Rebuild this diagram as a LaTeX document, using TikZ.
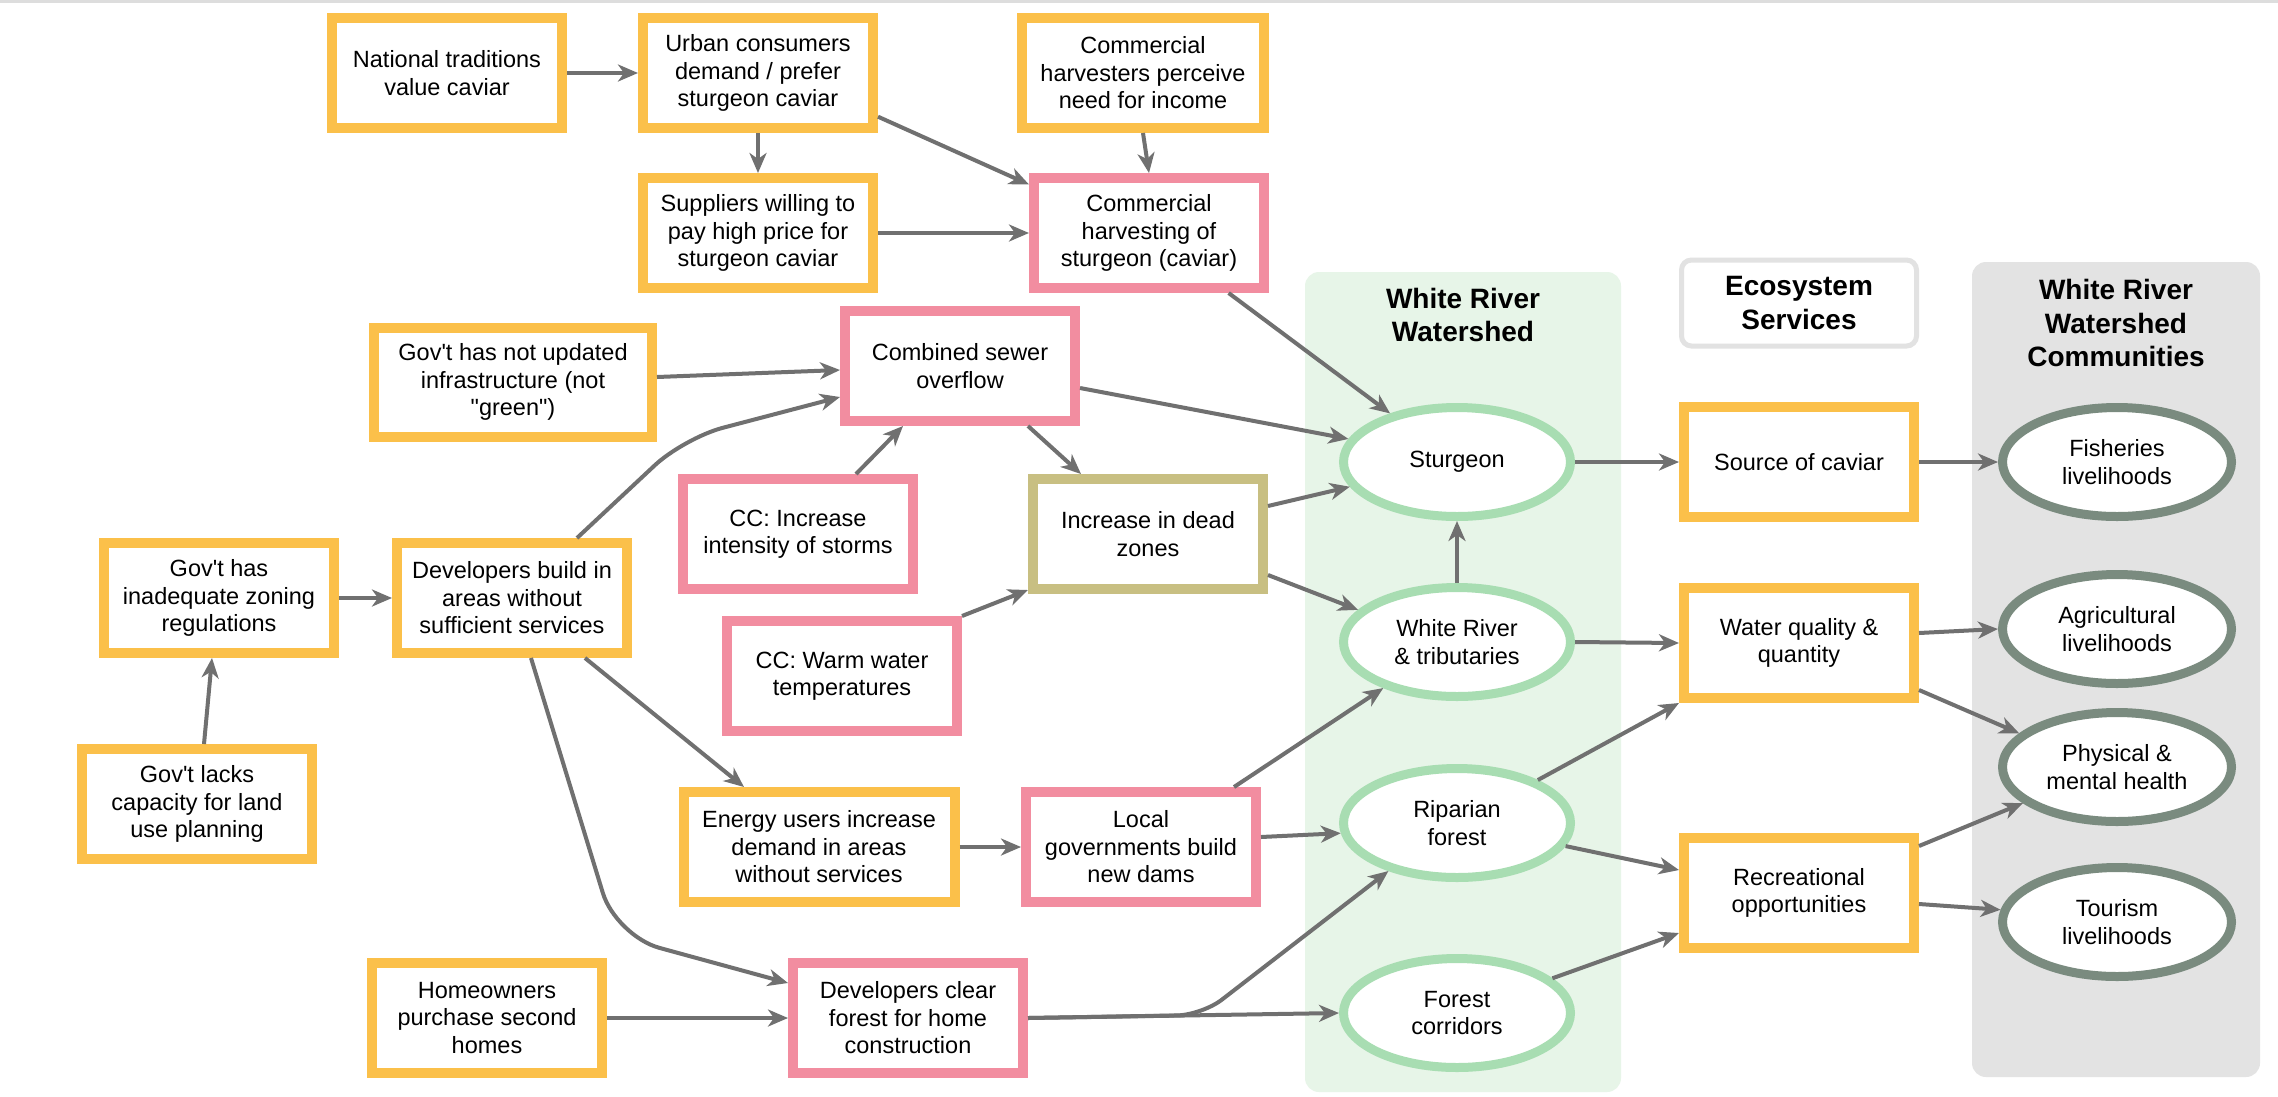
\documentclass[tikz,border=0pt]{standalone}
\usepackage{fontspec}
\setmainfont{Liberation Sans}
\usetikzlibrary{arrows.meta,shapes.geometric}
\definecolor{cOrange}{HTML}{FBC04A}
\definecolor{cPink}{HTML}{F28DA0}
\definecolor{cKhaki}{HTML}{C8BF82}
\definecolor{cGreen}{HTML}{A8DDB2}
\definecolor{cGreenBg}{HTML}{E7F5E8}
\definecolor{cGrayBg}{HTML}{E3E3E3}
\definecolor{cComm}{HTML}{7A8B7F}
\definecolor{cArrow}{HTML}{707070}
\definecolor{cTitleBox}{HTML}{E2E2E2}
\definecolor{cTopLine}{HTML}{DDDDDD}
\newcommand{\sq}{\XeTeXglyph\XeTeXcharglyph"0027\relax}
\newcommand{\dq}{\XeTeXglyph\XeTeXcharglyph"0022\relax}
\begin{document}
\begin{tikzpicture}[x=1pt,y=1pt,
  txt/.style={font=\fontsize{23.5}{27.5}\selectfont, align=center, text=black},
  box/.style={txt, rectangle, line width=10pt, fill=white, minimum width=230pt, minimum height=110pt, inner sep=0pt},
  obox/.style={box, draw=cOrange},
  pbox/.style={box, draw=cPink},
  kbox/.style={box, draw=cKhaki},
  wnode/.style={txt, ellipse, draw=cGreen, line width=9pt, fill=white, minimum width=227pt, minimum height=109pt, inner sep=0pt},
  cnode/.style={txt, ellipse, draw=cComm, line width=9pt, fill=white, minimum width=229pt, minimum height=109pt, inner sep=0pt},
  ttl/.style={font=\fontsize{28}{33.5}\selectfont\bfseries, align=center, text=black},
  arr/.style={draw=cArrow, line width=4pt, -{Stealth[length=20pt,width=17pt,inset=6pt]}},
]
\useasboundingbox (0,0) rectangle (2278,-1096);
\fill[white] (0,0) rectangle (2278,-1096);
\fill[cTopLine] (0,0) rectangle (2278,-3);

% panels
\fill[cGreenBg, rounded corners=14pt] (1305,-272) rectangle (1621,-1092);
\fill[cGrayBg, rounded corners=14pt] (1972,-262) rectangle (2260,-1077);
\node[ttl] (t1) at (1463,-315) {White River\\Watershed};
\node[ttl, draw=cTitleBox, line width=5pt, rounded corners=10pt, fill=white, minimum width=235pt, minimum height=86pt, inner sep=0pt] (eco) at (1799,-303) {Ecosystem\\Services};
\node[ttl] (t3) at (2116,-323) {White River\\Watershed\\Communities};

% boxes
\node[obox] (nat) at (447,-73) {National traditions\\value caviar};
\node[obox] (urban) at (758,-73) {Urban consumers\\demand / prefer\\sturgeon caviar};
\node[obox, minimum width=242pt] (harvp) at (1143,-73) {Commercial\\harvesters perceive\\need for income};
\node[obox] (supp) at (758,-233) {Suppliers willing to\\pay high price for\\sturgeon caviar};
\node[pbox] (harv) at (1149,-233) {Commercial\\harvesting of\\sturgeon (caviar)};
\node[obox, minimum width=278pt, minimum height=109pt] (govup) at (513,-382) {Gov\sq t has not updated\\infrastructure (not\\\dq green\dq)};
\node[pbox] (sewer) at (960,-366) {Combined sewer\\overflow};
\node[pbox] (storms) at (798,-534) {CC: Increase\\intensity of storms};
\node[kbox] (dead) at (1148,-534) {Increase in dead\\zones};
\node[pbox] (warm) at (842,-676) {CC: Warm water\\temperatures};
\node[obox] (govzone) at (219,-598) {Gov\sq t has\\inadequate zoning\\regulations};
\node[obox] (devbuild) at (512,-598) {Developers build in\\areas without\\sufficient services};
\node[obox] (govcap) at (197,-804) {Gov\sq t lacks\\capacity for land\\use planning};
\node[obox, minimum width=271pt] (energy) at (819,-847) {Energy users increase\\demand in areas\\without services};
\node[pbox] (local) at (1141,-847) {Local\\governments build\\new dams};
\node[obox] (home) at (487,-1018) {Homeowners\\purchase second\\homes};
\node[pbox] (clear) at (908,-1018) {Developers clear\\forest for home\\construction};

% watershed
\node[wnode] (sturg) at (1457,-462) {Sturgeon};
\node[wnode] (wr) at (1457,-642) {White River\\\& tributaries};
\node[wnode] (rip) at (1457,-823) {Riparian\\forest};
\node[wnode] (fc) at (1457,-1013) {Forest\\corridors};

% services
\node[obox] (src) at (1799,-462) {Source of caviar};
\node[obox] (wq) at (1799,-643) {Water quality \&\\quantity};
\node[obox] (rec) at (1799,-893) {Recreational\\opportunities};

% communities
\node[cnode] (fish) at (2117,-462) {Fisheries\\livelihoods};
\node[cnode] (agri) at (2117,-629) {Agricultural\\livelihoods};
\node[cnode] (phys) at (2117,-767) {Physical \&\\mental health};
\node[cnode] (tour) at (2117,-922) {Tourism\\livelihoods};

% connectors
\draw[arr] (nat.east) -- (urban.west);
\draw[arr] (urban.south) -- (supp.north);
\draw[arr] (harvp.south) -- (harv.north);
\draw[arr] (urban.-20) -- (harv.158);
\draw[arr] (supp.east) -- (harv.west);
\draw[arr] (harv.-37) -- (sturg.144);
\draw[arr] ([yshift=5pt]govup.east) -- ([yshift=-4pt]sewer.west);
\draw[arr, rounded corners=40pt] ([xshift=65pt]devbuild.north) -- (684,-438) -- ([yshift=-31pt]sewer.west);
\draw[arr] ([xshift=58pt]storms.north) -- ([xshift=-57pt]sewer.south);
\draw[arr] ([yshift=-22pt]sewer.east) -- (sturg.168);
\draw[arr] ([xshift=68pt]sewer.south) -- ([xshift=-67pt]dead.north);
\draw[arr] (warm.north east) -- ([yshift=4pt]dead.south west);
\draw[arr] ([yshift=28pt]dead.east) -- (sturg.193);
\draw[arr] ([yshift=-41pt]dead.east) -- (wr.162);
\draw[arr] (wr.north) -- (sturg.south);
\draw[arr] ([xshift=7pt]govcap.north) -- ([xshift=-7pt]govzone.south);
\draw[arr] (govzone.east) -- (devbuild.west);
\draw[arr] ([xshift=73pt]devbuild.south) -- ([xshift=-75pt]energy.north);
\draw[arr, rounded corners=45pt] ([xshift=19pt]devbuild.south) -- (616,-936) -- ([yshift=35pt]clear.west);
\draw[arr] (energy.east) -- (local.west);
\draw[arr] ([xshift=93pt]local.north) -- (wr.212);
\draw[arr] ([yshift=10pt]local.east) -- (rip.185);
\draw[arr] (home.east) -- (clear.west);
\draw[arr] (clear.east) -- (fc.west);
\draw[arr, rounded corners=25pt] (clear.east) -- (1202,-1015) -- (rip.215);
\draw[arr] (fc.20) -- ([yshift=-40pt]rec.west);
\draw[arr] (rip.-12) -- ([yshift=23pt]rec.west);
\draw[arr] (rip.28) -- (wq.south west);
\draw[arr] (sturg.east) -- (src.west);
\draw[arr] (wr.east) -- (wq.west);
\draw[arr] (src.east) -- (fish.west);
\draw[arr] ([yshift=10pt]wq.east) -- (agri.west);
\draw[arr] ([yshift=-47pt]wq.east) -- (phys.161);
\draw[arr] ([yshift=47pt]rec.east) -- (phys.201);
\draw[arr] ([yshift=-11pt]rec.east) -- (tour.174);
\end{tikzpicture}
\end{document}
